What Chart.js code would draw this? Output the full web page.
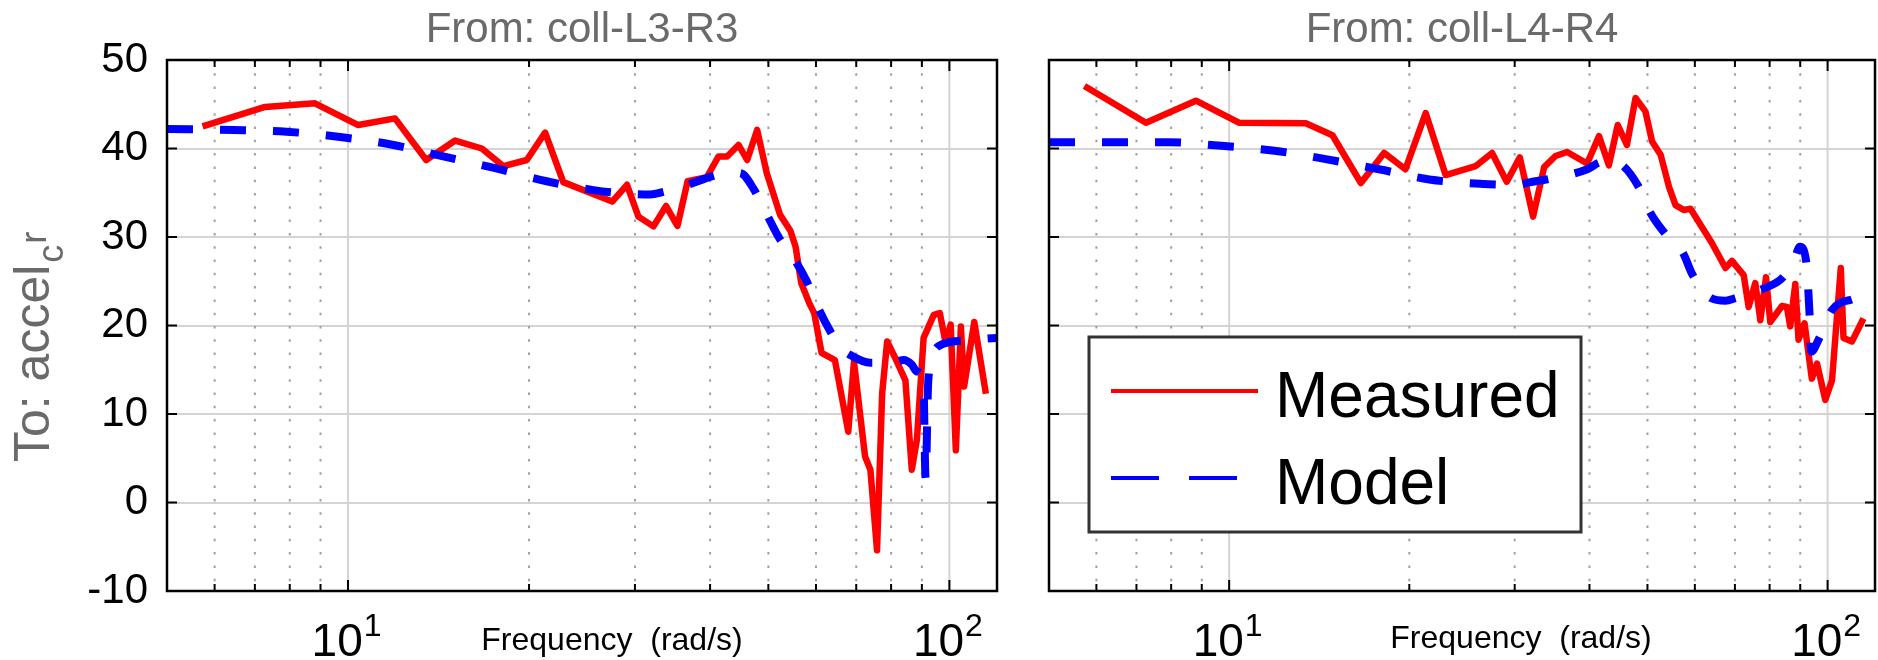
<!DOCTYPE html>
<html>
<head>
<meta charset="utf-8">
<script src="https://cdn.jsdelivr.net/npm/chart.js@4.4.0/dist/chart.umd.min.js"></script>
<style>
body { margin: 0; background: #fff; }
#wrap { position: relative; width: 1878px; height: 660px; }
canvas { position: absolute; top: 0; }
</style>
</head>
<body>
<div id="wrap">
<canvas id="left-chart" width="1000" height="660" style="left:0"></canvas>
<canvas id="right-chart" width="878" height="660" style="left:1000px"></canvas>
</div>
<script>
var FONT = "'Liberation Sans', Arial, Helvetica, sans-serif";

// left panel: From coll-L3-R3
var measFreqL = [5.73, 7.28, 8.81, 10.4, 11.97, 13.49, 15.07, 16.69, 18.13, 19.83, 21.27, 22.8, 27.5, 29.1, 30.4, 32.2, 33.8, 35.3, 36.7, 39.5, 41.3, 42.7, 44.6, 46.1, 47.9, 49.7, 52.3, 54.4, 55.5, 56.7, 58.5, 59.6, 61.3, 64.5, 67.9, 69.4, 72.4, 73.9, 75.8, 77.3, 78.8, 81.3, 84.5, 86.6, 88.3, 90.6, 94.2, 96.4, 98.6, 100.5, 102.5, 104.5, 105.8, 110, 115];
var measMagL = [42.5, 44.7, 45.1, 42.65, 43.4, 38.7, 40.9, 40.0, 38.0, 38.7, 41.8, 36.2, 34.0, 35.9, 32.3, 31.2, 33.5, 31.25, 36.3, 36.75, 39.1, 39.1, 40.4, 38.7, 42.1, 37.2, 32.5, 30.7, 28.9, 24.8, 22.5, 21.4, 16.9, 16.1, 8.0, 15.9, 5.2, 3.7, -5.4, 12.3, 18.2, 16.3, 13.8, 3.7, 7.1, 18.6, 21.2, 21.4, 18.0, 20.1, 5.9, 19.9, 13.1, 20.4, 12.3];
var modelFreqL = [5.0, 6.45, 7.9, 9.7, 11.9, 14.4, 17.5, 21.4, 25.6, 29, 31.8, 33.5, 36, 38.5, 40.5, 43, 45.0, 47.2, 49.5, 52, 55.8, 57.8, 60.5, 63.2, 66, 68.3, 73.9, 80, 84, 86.5, 88.3, 90.5, 91.3, 92.2, 94, 96.7, 105.8, 120];
var modelMagL = [42.2, 42.1, 41.9, 41.3, 40.4, 39.1, 37.8, 36.3, 35.3, 34.9, 34.8, 35.1, 35.7, 36.4, 36.9, 37.3, 37.2, 35.5, 32.8, 30.0, 27.0, 25.1, 22.0, 19.5, 17.5, 16.7, 15.8, 15.8, 16.1, 15.6, 14.8, 13.8, 2.7, 13.5, 16.8, 17.8, 18.3, 18.6];

// right panel: From coll-L4-R4
var measFreqR = [5.73, 7.26, 8.8, 10.4, 13.43, 14.88, 16.6, 18.15, 19.7, 21.3, 23.0, 25.8, 27.5, 29.1, 30.6, 32.2, 33.6, 35.1, 36.7, 39.65, 41.5, 43.1, 44.6, 46.2, 47.75, 49.6, 50.9, 52.6, 54.3, 55.7, 57.5, 59.0, 64.1, 67.5, 69.2, 72.4, 73.8, 75.7, 77.2, 78.9, 80.2, 83.9, 85.5, 86.6, 88.3, 89.4, 91.5, 94.1, 96.0, 99.1, 101.7, 105.2, 106.3, 109.8, 114.8];
var measMagR = [47.06, 42.9, 45.4, 42.9, 42.85, 41.5, 36.1, 39.5, 37.65, 44.0, 37.0, 38.0, 39.5, 36.25, 39.0, 32.3, 37.9, 39.15, 39.6, 38.3, 41.4, 38.1, 42.65, 40.4, 45.7, 44.2, 40.8, 39.3, 35.7, 33.6, 33.05, 33.2, 29.3, 26.5, 27.3, 25.7, 22.1, 24.8, 20.6, 25.45, 20.4, 22.2, 22.1, 19.9, 24.7, 18.4, 20.25, 14.0, 15.7, 11.6, 13.8, 26.5, 18.6, 18.2, 20.8];
var modelFreqR = [5.0, 6.45, 7.94, 9.7, 11.9, 14.5, 17.8, 21.6, 26.5, 30, 32.5, 34.2, 39.65, 41.5, 43.5, 45.6, 48.3, 50.6, 53.5, 57.3, 59.5, 63.8, 67.5, 70.2, 77.7, 84.4, 88, 89.9, 92.1, 93.3, 93.9, 96.8, 101.7, 109.8, 120];
var modelMagR = [40.7, 40.7, 40.7, 40.3, 39.75, 38.8, 37.65, 36.5, 36.0, 35.9, 36.3, 36.55, 37.65, 38.4, 38.6, 38.0, 35.7, 32.7, 30.4, 28.2, 25.7, 23.1, 22.8, 23.1, 24.1, 25.5, 27.5, 28.9, 27.2, 21.2, 17.05, 18.55, 21.75, 22.95, 23.4];

var yTicks = [-10, 0, 10, 20, 30, 40, 50];
var xTicks = [6, 7, 8, 9, 10, 20, 30, 40, 50, 60, 70, 80, 90, 100];
var xLabelVals = [10, 100];
var xLabelExp = ['1', '2'];
var seriesNames = ['Measured', 'Model'];
var seriesColors = ['#ff0000', '#0000ff'];

function toPoints(fs, ms) {
	return fs.map(function(f, i) { return { x: f, y: ms[i] }; });
}

var bodePlugin = {
	id: 'bode',
	beforeDatasetsDraw: function(chart) {
		var ctx = chart.ctx, a = chart.chartArea, xs = chart.scales.x;
		ctx.save();
		ctx.beginPath();
		ctx.rect(a.left, a.top, a.right - a.left, a.bottom - a.top);
		ctx.clip();
		xs.ticks.forEach(function(t) {
			var px = xs.getPixelForValue(t.value);
			var major = xLabelVals.indexOf(t.value) >= 0;
			ctx.beginPath();
			ctx.lineWidth = 2;
			ctx.strokeStyle = major ? '#d4d4d4' : '#a0a0a0';
			ctx.setLineDash(major ? [] : [2.5, 10.8]);
			ctx.moveTo(px, a.top);
			ctx.lineTo(px, a.bottom);
			ctx.stroke();
		});
		ctx.restore();
	},
	afterDraw: function(chart, args, o) {
		var ctx = chart.ctx, a = chart.chartArea, xs = chart.scales.x, ys = chart.scales.y;
		ctx.save();

		// inward ticks
		ctx.strokeStyle = '#000';
		ctx.lineWidth = 2;
		ctx.setLineDash([]);
		xs.ticks.forEach(function(t) {
			var px = xs.getPixelForValue(t.value);
			var len = xLabelVals.indexOf(t.value) >= 0 ? 11 : 7;
			ctx.beginPath();
			ctx.moveTo(px, a.bottom); ctx.lineTo(px, a.bottom - len);
			ctx.moveTo(px, a.top); ctx.lineTo(px, a.top + len);
			ctx.stroke();
		});
		ys.ticks.forEach(function(t) {
			var py = ys.getPixelForValue(t.value);
			ctx.beginPath();
			ctx.moveTo(a.left, py); ctx.lineTo(a.left + 10, py);
			ctx.moveTo(a.right, py); ctx.lineTo(a.right - 10, py);
			ctx.stroke();
		});

		// box
		ctx.lineWidth = 2.5;
		ctx.strokeRect(a.left, a.top, a.right - a.left, a.bottom - a.top);

		// x tick labels 10^n
		ctx.fillStyle = '#000';
		ctx.textBaseline = 'alphabetic';
		ctx.textAlign = 'left';
		xLabelVals.forEach(function(v, i) {
			var px = xs.getPixelForValue(v);
			ctx.font = '46px ' + FONT;
			var wb = ctx.measureText('10').width;
			ctx.font = '32px ' + FONT;
			var we = ctx.measureText(xLabelExp[i]).width;
			var x0 = px - (wb + we) / 2 - 2;
			ctx.font = '46px ' + FONT;
			ctx.fillText('10', x0, 656);
			ctx.font = '32px ' + FONT;
			ctx.fillText(xLabelExp[i], x0 + wb + 1, 636);
		});

		// x axis title
		ctx.font = '32px ' + FONT;
		ctx.textAlign = 'center';
		ctx.fillText('Frequency  (rad/s)', o.xTitleX, o.xTitleY);

		// panel title
		ctx.fillStyle = '#6a6a6a';
		ctx.font = '42px ' + FONT;
		ctx.fillText(o.title, (a.left + a.right) / 2, 42);

		// y axis title
		if (o.yTitle) {
			ctx.save();
			ctx.translate(49, 462);
			ctx.rotate(-Math.PI / 2);
			ctx.textAlign = 'left';
			ctx.font = '50px ' + FONT;
			ctx.fillText('To: accel', 0, 0);
			var w = ctx.measureText('To: accel').width;
			ctx.font = '36px ' + FONT;
			ctx.fillText('c', w + 2, 14);
			var w2 = ctx.measureText('c').width;
			ctx.fillText('r', w + w2 + 3, -3);
			ctx.restore();
		}

		// legend
		if (o.legend) {
			var bx = a.left + 40, by = a.top + 277, bw = 492, bh = 195;
			ctx.fillStyle = '#fff';
			ctx.fillRect(bx, by, bw, bh);
			ctx.strokeStyle = '#333';
			ctx.lineWidth = 3;
			ctx.strokeRect(bx, by, bw, bh);
			var rows = [by + 54, by + 141];
			seriesNames.forEach(function(name, i) {
				ctx.beginPath();
				ctx.strokeStyle = seriesColors[i];
				ctx.lineWidth = 4;
				ctx.setLineDash(i === 1 ? [48, 30] : []);
				ctx.moveTo(bx + 22, rows[i]);
				ctx.lineTo(bx + (i === 1 ? 149 : 169), rows[i]);
				ctx.stroke();
				ctx.setLineDash([]);
				ctx.fillStyle = '#000';
				ctx.font = '64px ' + FONT;
				ctx.textAlign = 'left';
				ctx.fillText(name, bx + 186, rows[i] + 26);
			});
		}
		ctx.restore();
	}
};

function makeChart(id, measF, measM, modF, modM, opts) {
	var ctx = document.getElementById(id).getContext('2d');
	return new Chart(ctx, {
		type: 'line',
		data: {
			datasets: [
				{
					label: seriesNames[0],
					data: toPoints(measF, measM),
					borderColor: seriesColors[0],
					borderWidth: 6.5,
					borderJoinStyle: 'round',
					pointRadius: 0,
					tension: 0,
					order: 1
				},
				{
					label: seriesNames[1],
					data: toPoints(modF, modM),
					borderColor: seriesColors[1],
					borderWidth: 8,
					borderDash: [26, 27],
					pointRadius: 0,
					cubicInterpolationMode: 'monotone',
					order: 0
				}
			]
		},
		options: {
			responsive: false,
			animation: false,
			devicePixelRatio: 1,
			layout: { padding: { top: 60, right: 3, left: 0, bottom: 0 } },
			plugins: {
				legend: { display: false },
				tooltip: { enabled: false },
				bode: opts
			},
			scales: {
				x: {
					type: 'logarithmic',
					min: 5,
					max: 120,
					afterBuildTicks: function(s) { s.ticks = xTicks.map(function(v) { return { value: v }; }); },
					afterFit: function(s) { s.height = 69; },
					ticks: { display: false },
					grid: { display: false },
					border: { display: false }
				},
				y: {
					min: -10,
					max: 50,
					afterBuildTicks: function(s) { s.ticks = yTicks.map(function(v) { return { value: v }; }); },
					afterFit: function(s) { s.width = opts.yWidth; },
					ticks: {
						display: opts.yLabels,
						padding: 19,
						color: '#000',
						font: { family: FONT, size: 42 }
					},
					grid: { color: '#d4d4d4', lineWidth: 2, drawTicks: false },
					border: { display: false }
				}
			}
		},
		plugins: [bodePlugin]
	});
}

makeChart('left-chart', measFreqL, measMagL, modelFreqL, modelMagL,
	{ title: 'From: coll-L3-R3', yTitle: true, yLabels: true, yWidth: 167, xTitleX: 612, xTitleY: 650, legend: false });
makeChart('right-chart', measFreqR, measMagR, modelFreqR, modelMagR,
	{ title: 'From: coll-L4-R4', yTitle: false, yLabels: false, yWidth: 49, xTitleX: 521, xTitleY: 648, legend: true });
</script>
</body>
</html>
